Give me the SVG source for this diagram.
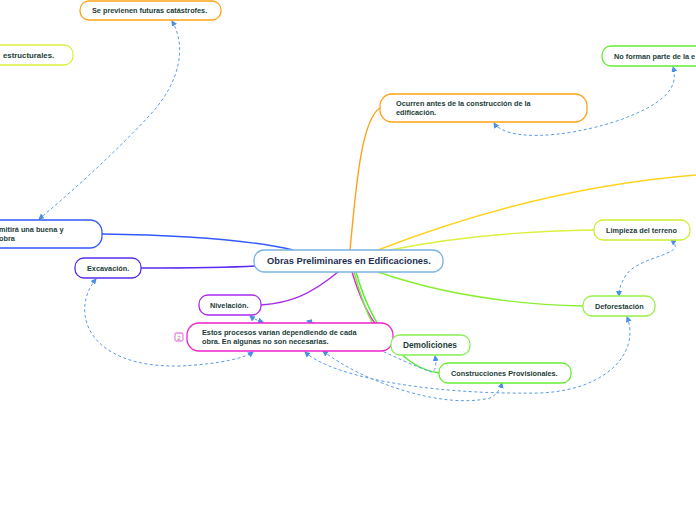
<svg xmlns="http://www.w3.org/2000/svg" width="696" height="520" viewBox="0 0 696 520">
<style>
.n rect{fill:#fff;stroke-width:1.3}
.t{font-family:"Liberation Sans",Arial,sans-serif;font-weight:bold;font-size:7.3px;fill:#1b3d38}
.c{fill:none;stroke-width:1.4}
.d{fill:none;stroke:#5b9be8;stroke-width:1;stroke-dasharray:3 2.5;marker-start:url(#ah);marker-end:url(#ah)}
</style>
<defs>
<marker id="ah" viewBox="0 0 6 6" refX="5" refY="3" markerWidth="6" markerHeight="6" markerUnits="userSpaceOnUse" orient="auto-start-reverse">
<path d="M0,0 L6,3 L0,6 z" fill="#4a8fe6"/>
</marker>
</defs>
<rect width="696" height="520" fill="#fff"/>
<g id="connectors">
<path class="c" stroke="#ffa21a" d="M350,250 C355,200 360,120 380,108"/>
<path class="c" stroke="#ffd21a" d="M378,250 C450,222 560,186 696,175"/>
<path class="c" stroke="#ddf040" d="M390,250 C450,238 520,231 594,230"/>
<path class="c" stroke="#8aee33" d="M378,272 C430,290 500,304 583,306"/>
<path class="c" stroke="#3358ff" d="M293,250 C250,240 180,235 102,234"/>
<path class="c" stroke="#5a2bf0" d="M256,266 C220,268 180,268 141,268"/>
<path class="c" stroke="#aa2aee" d="M338,272 C310,295 290,303 261,305"/>
<path class="c" stroke="#ee22cc" d="M352,272 C362,305 375,332 393,338"/>
<path class="c" stroke="#77ee44" d="M354,272 C365,312 378,340 391,345"/>
<path class="c" stroke="#55ee33" d="M356,272 C370,322 400,368 439,373"/>
<path class="d" d="M172,21 C186,45 182,80 150,115 C110,158 62,200 39,219"/>
<path class="d" d="M494,123 C505,140 560,140 620,120 C660,105 680,90 673,67"/>
<path class="d" d="M671,240 C690,255 640,255 626,275 C620,285 619,290 619,296"/>
<path class="d" d="M96,279 C70,310 85,368 180,366 C220,364 245,358 253,352"/>
<path class="d" d="M250,316 C255,320 260,321 263,322"/>
<path class="d" d="M307,321 C340,328 400,362 432,372 C437,370 436,362 435,356"/>
<path class="d" d="M305,352 C330,375 420,395 540,393 C610,390 640,350 627,317"/>
<path class="d" d="M323,351 C360,380 440,410 490,398 C496,395 500,390 502,383"/>
</g>
<g id="center" class="n">
<rect x="254" y="250" width="189" height="22" rx="10" stroke="#7ab4e4"/>
<text class="t" x="267" y="264" style="font-size:9.3px;fill:#1e2f52">Obras Preliminares en Edificaciones.</text>
</g>
<g id="n-previenen" class="n">
<rect x="80" y="1" width="141" height="19" rx="9" stroke="#ffa21a"/>
<text class="t" x="92" y="13">Se previenen futuras catástrofes.</text>
</g>
<g id="n-estructurales" class="n">
<rect x="-20" y="45" width="93" height="20" rx="9" stroke="#ddf040"/>
<text class="t" x="3" y="58" style="font-size:7.8px">estructurales.</text>
</g>
<g id="n-noforman" class="n">
<rect x="602" y="46" width="110" height="20" rx="9" stroke="#66ee33"/>
<text class="t" x="614" y="59">No forman parte de la e</text>
</g>
<g id="n-ocurren" class="n">
<rect x="380" y="94" width="207" height="28" rx="12" stroke="#ffa21a"/>
<text class="t" x="396" y="106">Ocurren antes de la construcción de la</text>
<text class="t" x="396" y="115">edificación.</text>
</g>
<g id="n-permitira" class="n">
<rect x="-20" y="220" width="122" height="28" rx="12" stroke="#3358ff"/>
<text class="t" x="-1" y="232">mitirá una buena y</text>
<text class="t" x="-1" y="241">obra</text>
</g>
<g id="n-excavacion" class="n">
<rect x="75" y="258" width="66" height="20" rx="9" stroke="#5a2bf0"/>
<text class="t" x="87" y="271">Excavación.</text>
</g>
<g id="n-nivelacion" class="n">
<rect x="199" y="295" width="62" height="20" rx="9" stroke="#aa2aee"/>
<text class="t" x="210" y="308">Nivelación.</text>
</g>
<g id="n-estos" class="n">
<rect x="187" y="323" width="206" height="28" rx="12" stroke="#ee22cc"/>
<text class="t" x="202" y="335">Estos procesos varían dependiendo de cada</text>
<text class="t" x="202" y="344">obra. En algunas no son necesarias.</text>
<rect x="175" y="333" width="8" height="8" rx="1.5" stroke="#ee88dd" stroke-width="0.8"/>
<text x="179" y="339.5" text-anchor="middle" style="font-family:'Liberation Sans',Arial,sans-serif;font-size:6px;fill:#888">2</text>
</g>
<g id="n-demoliciones" class="n">
<rect x="391" y="335" width="79" height="20" rx="9" stroke="#88ee55"/>
<text class="t" x="403" y="348" style="font-size:8.3px">Demoliciones</text>
</g>
<g id="n-construcciones" class="n">
<rect x="439" y="363" width="132" height="20" rx="9" stroke="#66ee33"/>
<text class="t" x="451" y="376">Construcciones Provisionales.</text>
</g>
<g id="n-limpieza" class="n">
<rect x="594" y="220" width="96" height="20" rx="9" stroke="#ccee33"/>
<text class="t" x="606" y="233">Limpieza del terreno</text>
</g>
<g id="n-deforestacion" class="n">
<rect x="583" y="296" width="72" height="20" rx="9" stroke="#99ee44"/>
<text class="t" x="595" y="309">Deforestación</text>
</g>
</svg>
